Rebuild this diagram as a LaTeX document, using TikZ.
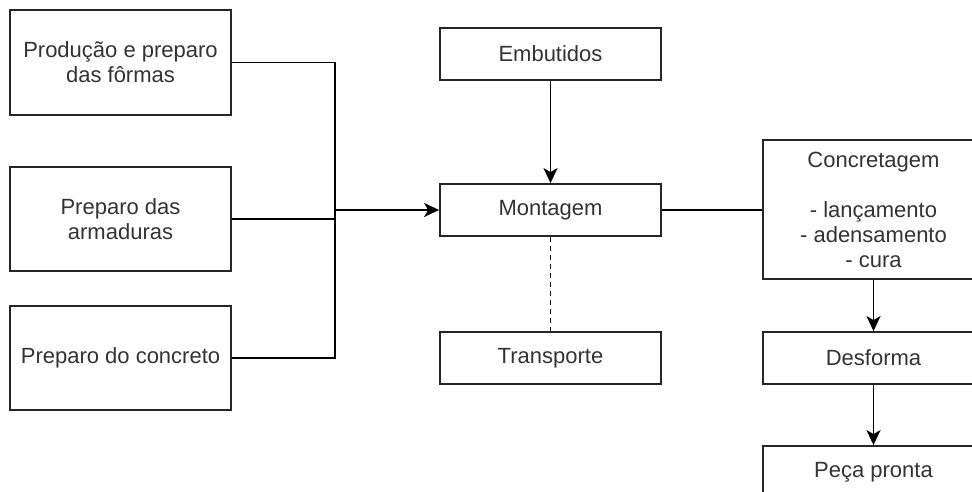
\documentclass[tikz,border=0pt]{standalone}
\usepackage{fontspec}
\setmainfont{Liberation Sans}
\usetikzlibrary{arrows.meta}

\begin{document}
\begin{tikzpicture}[x=1pt, y=-1pt,
    box/.style={draw=black!85, line width=1.8pt, minimum width=221pt, align=center,
        text=black!80, font=\fontsize{22}{25}\selectfont, inner sep=0pt},
    flow/.style={line width=1.8pt, -{Stealth[length=15pt, width=14pt, inset=4pt]}},
    link/.style={line width=1.8pt}]
    \useasboundingbox (0,0) rectangle (972,491);
    \clip (0,0) rectangle (972,491);

    % Left column: preparation
    \node[box, minimum height=105pt] (formas) at (120.5,62.5) {Produção e preparo\\das fôrmas};
    \node[box, minimum height=104pt] (armaduras) at (120.5,219) {Preparo das\\armaduras};
    \node[box, minimum height=104pt] (concreto) at (120.5,358) {Preparo do concreto};

    % Middle column: assembly
    \node[box, minimum height=52pt] (embutidos) at (550.5,54) {Embutidos};
    \node[box, minimum height=52pt] (montagem) at (550.5,210) {Montagem};
    \node[box, minimum height=52pt] (transporte) at (550.5,358) {Transporte};

    % Right column: casting
    \node[box, minimum height=139pt] (concretagem) at (873.5,209.5)
        {Concretagem\\\strut\\- lançamento\\- adensamento\\- cura};
    \node[box, minimum height=52pt] (desforma) at (873.5,358) {Desforma};
    \node[box, minimum height=52pt] (peca) at (873.5,472) {Peça pronta};

    % Connectors
    \coordinate (juncao) at (335,210);
    \draw[link] (formas.east) -| (juncao);
    \draw[link] (concreto.east) -| (juncao);
    \draw[link] (armaduras.east) -- (armaduras.east -| juncao);
    \draw[flow] (juncao) -- (montagem.west);
    \draw[flow] (embutidos.south) -- (montagem.north);
    \draw[link, dash pattern=on 5pt off 4pt] (montagem.south) -- (transporte.north);
    \draw[link] (montagem.east) -- (montagem.east -| concretagem.west);
    \draw[flow] (concretagem.south) -- (desforma.north);
    \draw[flow] (desforma.south) -- (peca.north);

\end{tikzpicture}
\end{document}
